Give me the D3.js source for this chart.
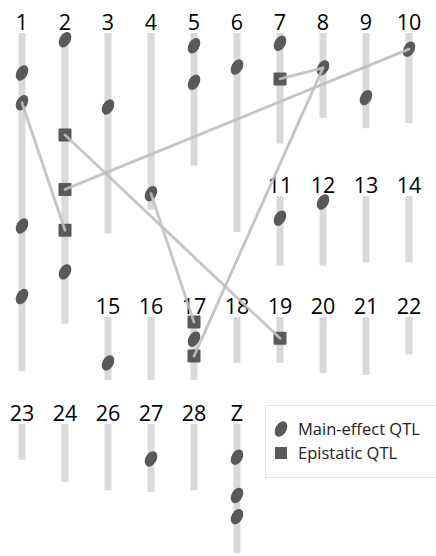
<!DOCTYPE html>
<html>
<head>
<meta charset="utf-8">
<script src="https://cdn.jsdelivr.net/npm/d3@7"></script>
<style>
  html, body { margin: 0; padding: 0; background: #fff; }
  svg { display: block; }
</style>
</head>
<body>
<svg id="chart" width="436" height="556"></svg>
<script>
// Chromosomes and their genetic lengths (cM)
const chromosomes = ["1","2","3","4","5","6","7","8","9","10",
                     "11","12","13","14",
                     "15","16","17","18","19","20","21","22",
                     "23","24","26","27","28","Z"];
const chromLengths = [199, 171, 118, 104, 78, 117, 65, 50, 56, 53,
                      41, 41, 39, 39,
                      37, 37, 37, 27, 27, 33, 34, 22,
                      21, 34, 39, 40, 39, 76];

// Main-effect QTL: chromosome and position (cM)
const mainQtlChrom = ["1","1","1","1","2","2","3","4","5","5","6","7","8","9","10",
                      "11","12","15","17","27","Z","Z","Z"];
const mainQtlPos   = [23.5, 41, 113.5, 155, 4, 140.5, 43.5, 94.5, 7.5, 29, 20, 6, 20.5, 38, 9.5,
                      13, 3.5, 27, 13, 20.5, 19.5, 42, 54.5];

// Epistatic QTL: chromosome and position (cM)
const epiQtlChrom = ["2","2","2","7","17","17","19"];
const epiQtlPos   = [60, 92, 116, 27, 3, 23, 12.5];

// Interacting QTL pairs (end A -> end B)
const linkChromA = ["1","2","2","4","7","8"];
const linkPosA   = [41, 60, 92, 94.5, 27, 20.5];
const linkChromB = ["2","19","10","17","8","17"];
const linkPosB   = [116, 12.5, 9.5, 3, 20.5, 23];

// Grid layout: each row starts at a column and lists its chromosomes
const gridRows = [
  { start: 0, names: ["1","2","3","4","5","6","7","8","9","10"] },
  { start: 6, names: ["11","12","13","14"] },
  { start: 2, names: ["15","16","17","18","19","20","21","22"] },
  { start: 0, names: ["23","24","26","27","28","Z"] }
];
const rowTops = [33, 196, 317, 424];

const svg = d3.select("#chart");

const x = d3.scalePoint().domain(d3.range(10)).range([22, 409]);
const cm = d3.scaleLinear().domain([0, 200]).range([0, 340]);

// Position lookup for every chromosome
const place = new Map();
gridRows.forEach((row, r) => {
  row.names.forEach((name, i) => {
    place.set(name, { x: x(row.start + i), top: rowTops[r] });
  });
});
const chromData = chromosomes.map((name, i) => ({ name, len: chromLengths[i], ...place.get(name) }));
const locate = (chrom, pos) => {
  const p = place.get(chrom);
  return [p.x, p.top + cm(pos)];
};

const markerColor = "#595959";
const barWidth = 7;

// Chromosome bars
svg.append("g").selectAll("rect")
  .data(chromData)
  .join("rect")
  .attr("x", d => d.x - barWidth / 2)
  .attr("y", d => d.top)
  .attr("width", barWidth)
  .attr("height", d => cm(d.len))
  .attr("fill", "#d9d9d9");

// Chromosome names
svg.append("g").selectAll("text")
  .data(chromData)
  .join("text")
  .attr("x", d => d.x)
  .attr("y", d => d.top - 3.5)
  .attr("text-anchor", "middle")
  .attr("font-family", "'Open Sans', sans-serif")
  .attr("font-size", 21.5)
  .attr("fill", "#000")
  .text(d => d.name);

const ellipse = (g) => g.append("ellipse")
  .attr("rx", 5.5).attr("ry", 8.3)
  .attr("transform", "rotate(30)")
  .attr("fill", markerColor);

// Main-effect QTL
svg.append("g").selectAll("g")
  .data(mainQtlChrom.map((c, i) => locate(c, mainQtlPos[i])))
  .join("g")
  .attr("transform", d => `translate(${d[0]},${d[1]})`)
  .call(ellipse);

// Epistatic QTL
const sq = 13;
svg.append("g").selectAll("rect")
  .data(epiQtlChrom.map((c, i) => locate(c, epiQtlPos[i])))
  .join("rect")
  .attr("x", d => d[0] - sq / 2)
  .attr("y", d => d[1] - sq / 2)
  .attr("width", sq).attr("height", sq)
  .attr("rx", 1)
  .attr("fill", markerColor);

// Epistatic interaction links
svg.append("g").selectAll("line")
  .data(linkChromA.map((c, i) => [locate(c, linkPosA[i]), locate(linkChromB[i], linkPosB[i])]))
  .join("line")
  .attr("x1", d => d[0][0]).attr("y1", d => d[0][1])
  .attr("x2", d => d[1][0]).attr("y2", d => d[1][1])
  .attr("stroke", "#bfbfbf")
  .attr("stroke-opacity", 0.9)
  .attr("stroke-width", 2.8)
  .attr("stroke-linecap", "round");

// Legend
const legend = svg.append("g");
legend.append("rect")
  .attr("x", 265.5).attr("y", 405.5)
  .attr("width", 180).attr("height", 72)
  .attr("fill", "#fff")
  .attr("stroke", "#e3e3e3");
const legendItems = ["Main-effect QTL", "Epistatic QTL"];
legendItems.forEach((label, i) => {
  const cy = 429 + i * 24;
  const g = legend.append("g").attr("transform", `translate(281,${cy})`);
  if (i === 0) {
    g.call(ellipse);
  } else {
    g.append("rect").attr("x", -6).attr("y", -6).attr("width", 12).attr("height", 12).attr("fill", markerColor);
  }
  legend.append("text")
    .attr("x", 298).attr("y", cy + 5.5)
    .attr("font-family", "'Open Sans', sans-serif")
    .attr("font-size", 16.5)
    .attr("fill", "#222")
    .text(label);
});
</script>
</body>
</html>
